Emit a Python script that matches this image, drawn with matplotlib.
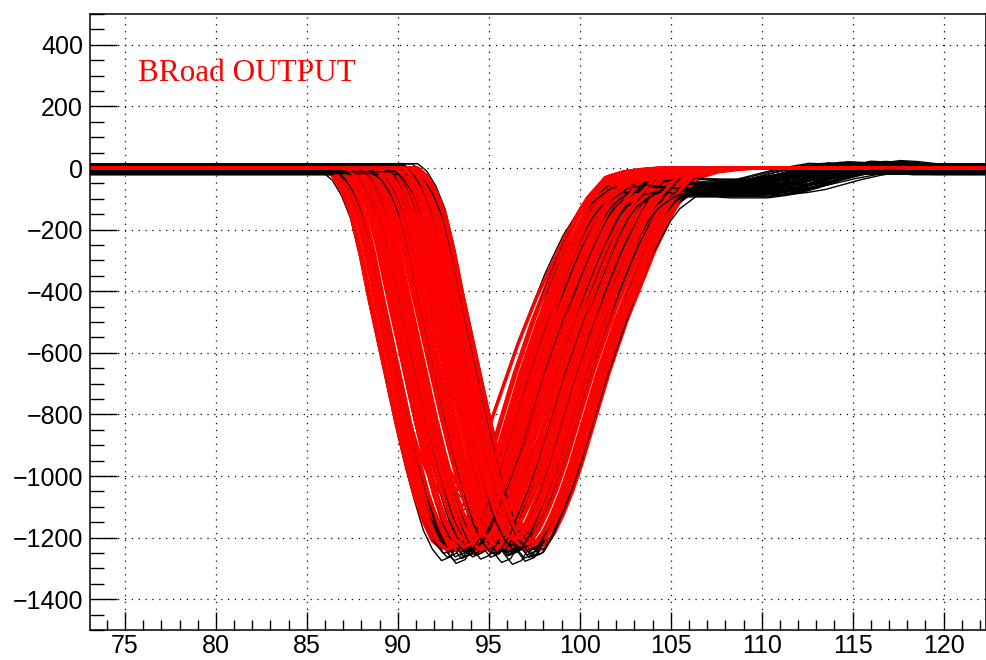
import numpy as np
import matplotlib
matplotlib.use("Agg")
import matplotlib.pyplot as plt
from matplotlib.ticker import MultipleLocator

# pulse shapes, time relative to the pulse minimum
fit_dt = [-25, -6.5, -6.0, -5.5, -5.0, -4.5, -4.0, -3.5, -3.0, -2.5, -2.0, -1.5,
          -1.0, -0.5, 0.0, 0.5, 1.0, 1.5, 2.0, 2.5, 3.0, 3.5, 4.0, 4.5, 5.0, 5.5,
          6.0, 6.5, 7.0, 7.5, 8.0, 9.0, 10.0, 11.0, 12.0, 31]
fit_shape = [0, 0, -0.02, -0.06, -0.12, -0.22, -0.34, -0.45, -0.56, -0.67, -0.77, -0.86,
             -0.93, -0.98, -1.0, -0.99, -0.96, -0.91, -0.85, -0.78, -0.70, -0.62, -0.54, -0.47, -0.40, -0.34,
             -0.28, -0.22, -0.17, -0.12, -0.08, -0.025, -0.01, -0.004, 0, 0]

raw_dt = [-25, -6.5, -6, -5.5, -5, -4.5, -4, -3.5, -3, -2.5, -2, -1.5, -1, -0.5, 0,
          0.5, 1, 1.5, 2, 2.5, 3, 3.5, 4, 4.5, 5, 5.5, 6, 6.5, 7, 7.5, 8, 9, 10, 11,
          12, 13, 14, 15, 16, 17, 18, 19, 20, 21, 22, 31]
raw_pulse = [0, 0, -0.02, -0.06, -0.12, -0.22, -0.34, -0.45, -0.56, -0.67, -0.77, -0.86, -0.94, -0.99, -1.02,
             -1.01, -0.97, -0.91, -0.85, -0.78, -0.70, -0.62, -0.54, -0.47, -0.40, -0.33, -0.27, -0.21, -0.16, -0.11,
             -0.07, -0.02, 0, 0, 0, 0, 0, 0, 0, 0, 0, 0, 0, 0, 0, 0]
raw_tail = [0] * 27 + [-0.05, -0.15, -0.25, -0.4, -0.65, -0.85, -0.95, -1.0, -1.0, -1.0,
                       -0.9, -0.75, -0.5, -0.25, -0.05, 0.12, 0.08, 0, 0]

# one entry per event
t_min = [94.1, 96.6, 92.4, 95.8, 93.5, 97.2, 94.8, 96.0, 93.0, 95.3,
         96.9, 93.8, 94.5, 97.6, 92.8, 95.6, 96.3, 93.3, 94.2, 95.0,
         96.8, 93.6, 97.4, 94.7, 95.9, 92.6, 96.2, 93.9, 95.5, 97.0,
         94.4, 96.5, 93.1, 95.2, 96.1, 94.0, 97.3, 93.4, 95.7, 96.7,
         92.9, 94.3, 95.4, 96.4, 93.2, 94.9, 97.1, 93.7, 95.1, 96.05,
         92.5, 94.6, 95.95, 93.45, 97.5, 94.25, 96.25, 93.15, 95.65, 96.95,
         92.7, 94.05, 95.45, 93.85, 96.75, 94.55, 95.15, 93.65, 97.15, 96.35]
amplitude = [1230, 1210, 1235, 1190, 1240, 1220, 1180, 1245, 1200, 1230,
             1160, 1050, 1215, 1235, 1225, 1200, 1240, 1100, 1230, 1210,
             1195, 1240, 1230, 1120, 1225, 1060, 1205, 1230, 1080, 1240,
             1225, 1215, 1230, 1190, 1235, 1210, 1225, 1200, 1240, 1220,
             1215, 1235, 1200, 1225, 1240, 1210, 1230, 1190, 1245, 1220,
             1230, 1205, 1235, 1220, 1215, 1240, 1200, 1225, 1210, 1235,
             1240, 1195, 1230, 1215, 1225, 1240, 1210, 1230, 1220, 1205]
undershoot = [60, 85, 45, 70, 80, 55, 75, 85, 40, 65,
              80, 50, 70, 85, 60, 45, 75, 75, 55, 80,
              65, 80, 50, 70, 85, 60, 40, 75, 80, 55,
              65, 85, 70, 50, 80, 60, 75, 45, 75, 70,
              55, 80, 65, 45, 75, 60, 85, 50, 70, 65,
              60, 75, 50, 85, 65, 55, 80, 70, 45, 75,
              65, 50, 80, 60, 70, 85, 55, 75, 60, 80]
baseline = [-8, 6, -15, 10, -3, -20, 4, 12, -12, 0,
            8, -18, -5, 14, 2, -10, -22, 6, 10, -6,
            -14, 3, -9, 12, -2, 8, -17, -4, 5, -12,
            10, -7, -20, 0, 7, -11, 13, -3, -16, 4,
            -6, 9, -13, 2, -19, 11, -1, -8, 6, -15,
            3, -10, 12, -4, -21, 7, -2, -13, 9, -7,
            1, -16, 5, -9, 13, -5, -18, 8, -1, -12]

fit_dt = np.array(fit_dt)
fit_shape = np.array(fit_shape)
raw_dt = np.array(raw_dt)
raw_pulse = np.array(raw_pulse)
raw_tail = np.array(raw_tail)

fig = plt.figure(figsize=(9.86, 6.6), dpi=100)
ax = fig.add_axes([90 / 986, 30 / 660, 895.5 / 986, 616 / 660])

for i in range(len(t_min)):
    ax.plot(t_min[i] + raw_dt, amplitude[i] * raw_pulse + undershoot[i] * raw_tail + baseline[i],
            color="black", lw=1.0)
    ax.plot(t_min[i] + fit_dt, amplitude[i] * fit_shape, color="red", lw=2.5)

ax.set_xlim(73.08, 122.3)
ax.set_ylim(-1500, 500)
ax.xaxis.set_major_locator(MultipleLocator(5))
ax.xaxis.set_minor_locator(MultipleLocator(1))
ax.yaxis.set_major_locator(MultipleLocator(200))
ax.yaxis.set_minor_locator(MultipleLocator(50))

ax.grid(True, which="major", color="black", linestyle=(0, (1, 4.5)), lw=0.9)
ax.tick_params(which="both", direction="in", top=False, right=False, width=1.0,
               labelsize=18)
ax.tick_params(axis="y", which="major", length=19.5, pad=5)
ax.tick_params(axis="y", which="minor", length=10)
ax.tick_params(axis="x", which="major", length=13, pad=3)
ax.tick_params(axis="x", which="minor", length=7)
for lab in ax.get_xticklabels() + ax.get_yticklabels():
    lab.set_fontfamily("Liberation Sans")
for sp in ax.spines.values():
    sp.set_linewidth(1.1)

ax.text(75.72, 283, "BRoad OUTPUT", color="red", fontsize=22.5,
        fontfamily="Liberation Serif", ha="left", va="baseline")

fig.savefig("out.png", dpi=100)
